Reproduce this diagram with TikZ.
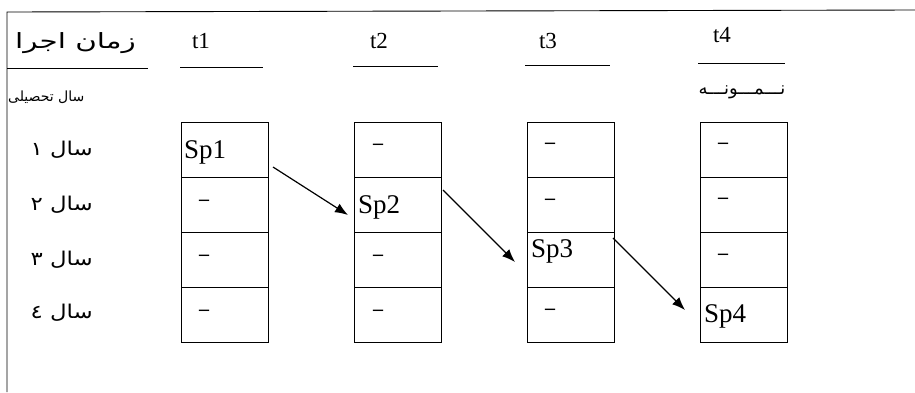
\documentclass[tikz,border=0pt]{standalone}
\usepackage{fontspec}
\setmainfont{Liberation Serif}
\newfontfamily\arabicfont[Script=Arabic]{DejaVu Sans}
\newfontfamily\arabicwide[Script=Arabic,FakeStretch=1.4]{DejaVu Sans}
\newfontfamily\arabicmid[Script=Arabic,FakeStretch=1.2]{DejaVu Sans}
\TeXXeTstate=1
\usetikzlibrary{arrows.meta,calc}
\begin{document}
\begin{tikzpicture}[x=1pt,y=-1pt,
  cell/.style={draw, line width=0.9pt, minimum width=87pt, minimum height=55pt, inner sep=0pt, outer sep=0pt},
  lat/.style={font=\fontsize{23}{23}\selectfont, inner sep=0pt},
  sp/.style={font=\fontsize{27}{27}\selectfont, inner sep=0pt, anchor=base west},
  dsh/.style={font=\bfseries\fontsize{20}{20}\selectfont, inner sep=0pt},
  rowlab/.style={font=\arabicmid\fontsize{19}{19}\selectfont, inner sep=0pt, anchor=east},
  frame/.style={line width=0.9pt},
  arr/.style={line width=1.2pt, -{Latex[length=13pt,width=10pt]}}]
\useasboundingbox (0,0) rectangle (915,392);
% frame
\draw[frame] (915,10) -- (7,12) -- (7,392);
\draw[frame] (7,68) -- (148,68);
% headers
\node[inner sep=0pt, anchor=base east, font=\arabicwide\fontsize{21}{21}\selectfont] (h0) at (136,48) {\beginR زمان اجرا\endR};
\node[lat, anchor=base] (t1) at (201,48) {t1};
\node[lat, anchor=base] (t2) at (379,48) {t2};
\node[lat, anchor=base] (t3) at (548,48) {t3};
\node[lat, anchor=base] (t4) at (722,42) {t4};
\draw[frame] (180,67) -- (263,67);
\draw[frame] (353,66) -- (438,66);
\draw[frame] (525,65) -- (610,65);
\draw[frame] (698,63) -- (785,63);
\node[inner sep=0pt, anchor=base west, font=\arabicfont\fontsize{14}{14}\selectfont] (h1) at (8,101) {\beginR سال تحصیلی\endR};
\node[inner sep=0pt, anchor=base, font=\arabicfont\fontsize{18}{18}\selectfont] (nm) at (742,94) {\beginR نـــمـــونـــه\endR};
% row labels
\node[rowlab] (r1) at (93,150) {\beginR سال ١\endR};
\node[rowlab] (r2) at (93,205) {\beginR سال ٢\endR};
\node[rowlab] (r3) at (93,260) {\beginR سال ٣\endR};
\node[rowlab] (r4) at (93,313) {\beginR سال ٤\endR};
% cells
\foreach \c/\x in {1/225,2/398,3/570.5,4/743.5}
  \foreach \r/\y in {1/149.5,2/204.5,3/259.5,4/314.5}
    \node[cell] (c\c\r) at (\x,\y) {};
% cell texts
\node[sp] (s1) at (184,158) {Sp1};
\node[sp] (s2) at (358,213) {Sp2};
\node[sp] (s3) at (531,257) {Sp3};
\node[sp] (s4) at (704,322) {Sp4};
\node[dsh] (d12) at (204,203) {–};
\node[dsh] (d13) at (204,258) {–};
\node[dsh] (d14) at (204,313) {–};
\node[dsh] (d21) at (378,147) {–};
\node[dsh] (d23) at (378,258) {–};
\node[dsh] (d24) at (378,313) {–};
\node[dsh] (d31) at (550,146) {–};
\node[dsh] (d32) at (550,202) {–};
\node[dsh] (d34) at (550,312) {–};
\node[dsh] (d41) at (723,146) {–};
\node[dsh] (d42) at (723,201) {–};
\node[dsh] (d43) at (723,257) {–};
% arrows
\draw[arr] ([shift={(4.5,17.5)}]c11.east) -- ([shift={(-6.5,10.5)}]c22.west);
\draw[arr] ([shift={(1.5,-14.5)}]c22.east) -- ([shift={(-12,2.5)}]c33.west);
\draw[arr] ([shift={(-1,-21.5)}]c33.east) -- ([shift={(-15,-4.5)}]c44.west);
\end{tikzpicture}
\end{document}
